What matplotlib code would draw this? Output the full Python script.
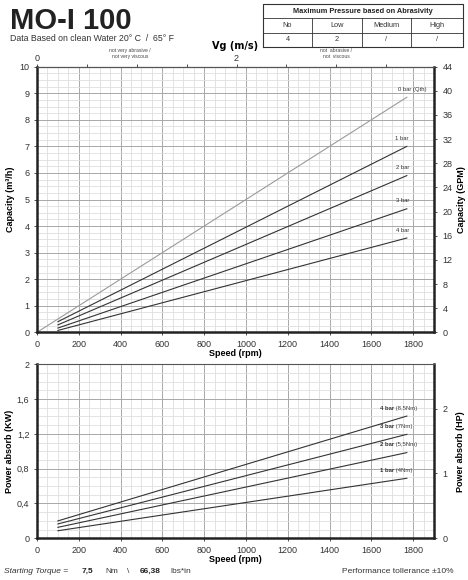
import numpy as np
import matplotlib
matplotlib.use("Agg")
import matplotlib.pyplot as plt
from matplotlib.ticker import MultipleLocator, FixedLocator

plt.rcParams['font.family'] = ['Liberation Sans', 'DejaVu Sans']

# capacity curves (m3/h) vs speed (rpm)
cap_labels = ['0 bar (Qth)', '1 bar', '2 bar', '3 bar', '4 bar']
cap_speed = [[0, 1770], [100, 1770], [100, 1770], [100, 1770], [100, 1770]]
cap_values = [[0.0, 8.85], [0.40, 7.0], [0.28, 5.9], [0.16, 4.65], [0.07, 3.55]]
cap_colors = ['#9a9a9a', '#333333', '#333333', '#333333', '#333333']

# power curves (kW) vs speed (rpm)
pow_labels = ['4 bar', '3 bar', '2 bar', '1 bar']
pow_torque = ['(8,5Nm)', '(7Nm)', '(5,5Nm)', '(4Nm)']
pow_speed = [100, 1770]
pow_values = [[0.20, 1.405], [0.165, 1.195], [0.126, 0.985], [0.087, 0.69]]

# abrasivity table
abr_cols = ['No', 'Low', 'Medium', 'High']
abr_vals = ['4', '2', '/', '/']

GPM = 4.4          # m3/h -> US GPM
HP = 0.7457        # kW per HP
VG2 = 955.0        # rpm where Vg = 2 m/s

fig = plt.figure(figsize=(4.68, 5.8), dpi=100)


def grid_setup(ax, ymajor, yminor):
    ax.set_xlim(0, 1900)
    ax.xaxis.set_major_locator(FixedLocator(np.arange(0, 1801, 200)))
    ax.xaxis.set_minor_locator(MultipleLocator(50))
    ax.yaxis.set_major_locator(MultipleLocator(ymajor))
    ax.yaxis.set_minor_locator(MultipleLocator(yminor))
    ax.grid(which='minor', color='#dedede', lw=0.6)
    ax.grid(which='major', color='#a8a8a8', lw=0.7)
    ax.set_axisbelow(True)
    ax.tick_params(which='minor', length=0)
    ax.tick_params(which='major', labelsize=6.5, length=2.5, width=0.6, colors='#333333', pad=3)
    for s in ['left', 'bottom', 'right']:
        ax.spines[s].set_linewidth(1.8)
        ax.spines[s].set_color('#222222')
    ax.spines['top'].set_linewidth(0.8)
    ax.spines['top'].set_color('#555555')
    ax.set_xlabel('Speed (rpm)', fontsize=6.5, fontweight='bold', labelpad=0)


# ---- capacity chart ----
ax1 = fig.add_axes([37 / 468, 1 - 332.3 / 580, 397 / 468, 265.6 / 580])
grid_setup(ax1, 1, 0.25)
ax1.set_ylim(0, 10)
ax1.set_ylabel('Capacity (m³/h)', fontsize=6.5, fontweight='bold', labelpad=3)
for lab, xs, ys, c in zip(cap_labels, cap_speed, cap_values, cap_colors):
    ax1.plot(xs, ys, color=c, lw=0.8)
    if lab.startswith('0'):
        ax1.text(1862, ys[1] + 0.2, lab, fontsize=4.2, ha='right', va='bottom', color='#333333')
    else:
        ax1.text(1780, ys[1] + 0.2, lab, fontsize=4.2, ha='right', va='bottom', color='#333333')

r1 = ax1.twinx()
r1.set_ylim(0, 10 * GPM)
r1.yaxis.set_major_locator(MultipleLocator(4))
r1.tick_params(labelsize=6.5, length=2.5, width=0.6, colors='#333333')
r1.set_ylabel('Capacity (GPM)', fontsize=6.5, fontweight='bold', labelpad=3)
for s in r1.spines.values():
    s.set_visible(False)

top = ax1.secondary_xaxis('top', functions=(lambda x: x * 2 / VG2, lambda v: v * VG2 / 2))
top.xaxis.set_major_locator(FixedLocator([0, 2]))
top.xaxis.set_minor_locator(FixedLocator([0.5, 1, 1.5, 2.5, 3, 3.5]))
top.tick_params(which='both', length=2, width=0.6, labelsize=6.5, colors='#333333', pad=1)
top.set_xlabel('Vg (m/s)', fontsize=7, fontweight='bold', labelpad=3,
               family=['DejaVu Sans'])
ax1.text(0.93 * VG2 / 2, 10.3, 'not very abrasive /\nnot very viscous', fontsize=3.6,
         ha='center', va='bottom', color='#444444', linespacing=1.1)
ax1.text(3.0 * VG2 / 2, 10.3, 'not  abrasive /\nnot  viscous', fontsize=3.6,
         ha='center', va='bottom', color='#444444', linespacing=1.1)

# ---- power chart ----
ax2 = fig.add_axes([37 / 468, 1 - 538.3 / 580, 397 / 468, 174 / 580])
grid_setup(ax2, 0.4, 0.1)
ax2.set_ylim(0, 2)
ax2.yaxis.set_major_formatter(lambda v, p: ('%g' % round(v, 1)).replace('.', ','))
ax2.set_ylabel('Power absorb (KW)', fontsize=6.5, fontweight='bold', labelpad=2)
for lab, tq, ys in zip(pow_labels, pow_torque, pow_values):
    ax2.plot(pow_speed, ys, color='#333333', lw=0.8)
    t = ax2.text(1641, ys[1] + 0.06, lab, fontsize=4.3, fontweight='bold',
                 ha='left', va='bottom', color='#333333')
    ax2.annotate(' ' + tq, xy=(1, 0), xycoords=t, fontsize=4.3, ha='left', va='bottom',
                 color='#444444')

r2 = ax2.twinx()
r2.set_ylim(0, 2 / HP)
r2.yaxis.set_major_locator(FixedLocator([0, 1, 2]))
r2.tick_params(labelsize=6.5, length=2.5, width=0.6, colors='#333333')
r2.set_ylabel('Power absorb (HP)', fontsize=6.5, fontweight='bold', labelpad=6)
for s in r2.spines.values():
    s.set_visible(False)

# ---- header ----
fig.text(10 / 468, 1 - 29 / 580, 'MO-I 100', fontsize=21, fontweight='bold', color='#222222')
fig.text(10 / 468, 1 - 41 / 580, 'Data Based on clean Water 20° C  /  65° F', fontsize=6.3,
         color='#333333')

tab = fig.add_axes([263 / 468, 1 - 47 / 580, 200 / 468, 43 / 580])
tab.set_xlim(0, 4)
tab.set_ylim(0, 3)
tab.axis('off')
tab.plot([0, 4, 4, 0, 0], [0, 0, 3, 3, 0], color='#333333', lw=0.8, clip_on=False)
tab.plot([0, 4], [1, 1], color='#333333', lw=0.6)
tab.plot([0, 4], [2, 2], color='#333333', lw=0.6)
col_x = [0, 0.98, 1.98, 2.95, 4]
for xv in col_x[1:-1]:
    tab.plot([xv, xv], [0, 2], color='#333333', lw=0.6)
tab.text(2, 2.5, 'Maximum Pressure based on Abrasivity', fontsize=5.3, fontweight='bold',
         ha='center', va='center', color='#222222')
for i, (cname, val) in enumerate(zip(abr_cols, abr_vals)):
    cx = (col_x[i] + col_x[i + 1]) / 2
    tab.text(cx, 1.5, cname, fontsize=5.3, ha='center', va='center', color='#333333')
    tab.text(cx, 0.5, val, fontsize=5.3, ha='center', va='center', color='#333333')

# ---- footer ----
fy = 1 - 573 / 580
fig.text(4 / 468, fy, 'Starting Torque =', fontsize=6, style='italic', color='#333333')
fig.text(82 / 468, fy, '7,5', fontsize=6, fontweight='bold', color='#222222')
fig.text(105 / 468, fy, 'Nm', fontsize=6, color='#333333')
fig.text(127 / 468, fy, '\\', fontsize=6, color='#333333')
fig.text(140 / 468, fy, '66,38', fontsize=6, fontweight='bold', color='#222222')
fig.text(170 / 468, fy, 'lbs*in', fontsize=6, color='#333333')
fig.text(453 / 468, fy, 'Performance tollerance ±10%', fontsize=6, ha='right', color='#333333')

fig.savefig('out.png', dpi=100)
